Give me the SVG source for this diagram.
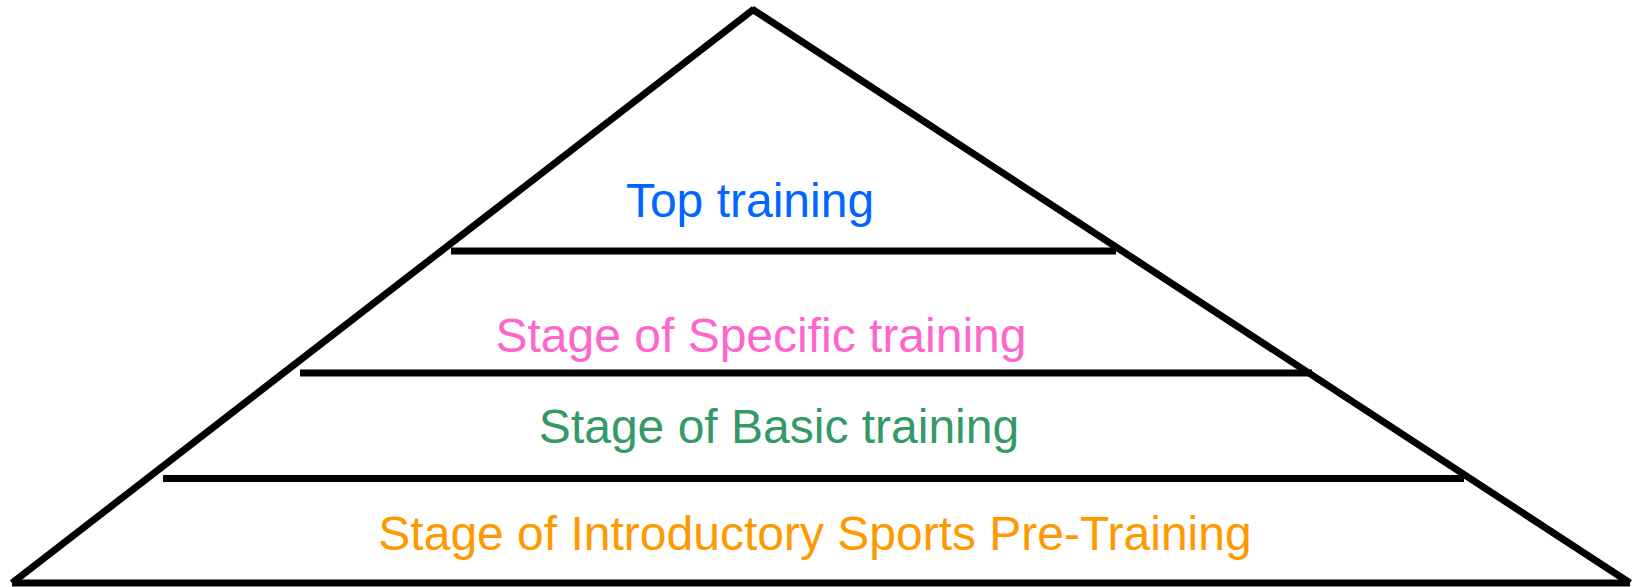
<svg xmlns="http://www.w3.org/2000/svg" width="1634" height="587" viewBox="0 0 1634 587">
<style>
.ln{stroke:#000;stroke-width:7;fill:none}
.t{font-family:"Liberation Sans",Arial,sans-serif;font-size:48px;text-anchor:middle}
</style>
<rect width="1634" height="587" fill="#fff"/>
<g id="connectors">
<line class="ln" x1="12" y1="583" x2="754" y2="9"/>
<line class="ln" x1="752" y1="9" x2="1630" y2="583"/>
<line class="ln" x1="12" y1="583" x2="1630" y2="583"/>
<line class="ln" x1="451" y1="251" x2="1116" y2="251"/>
<line class="ln" x1="300" y1="373" x2="1312" y2="373"/>
<line class="ln" x1="163" y1="478.5" x2="1464" y2="478.5"/>
</g>
<g id="top"><text class="t" x="750" y="217" fill="#0066FF">Top training</text></g>
<g id="specific"><text class="t" x="761" y="352" fill="#FF66CC">Stage of Specific training</text></g>
<g id="basic"><text class="t" x="779" y="443" fill="#339966">Stage of Basic training</text></g>
<g id="intro"><text class="t" x="815" y="550" fill="#FF9900">Stage of Introductory Sports Pre-Training</text></g>
</svg>
